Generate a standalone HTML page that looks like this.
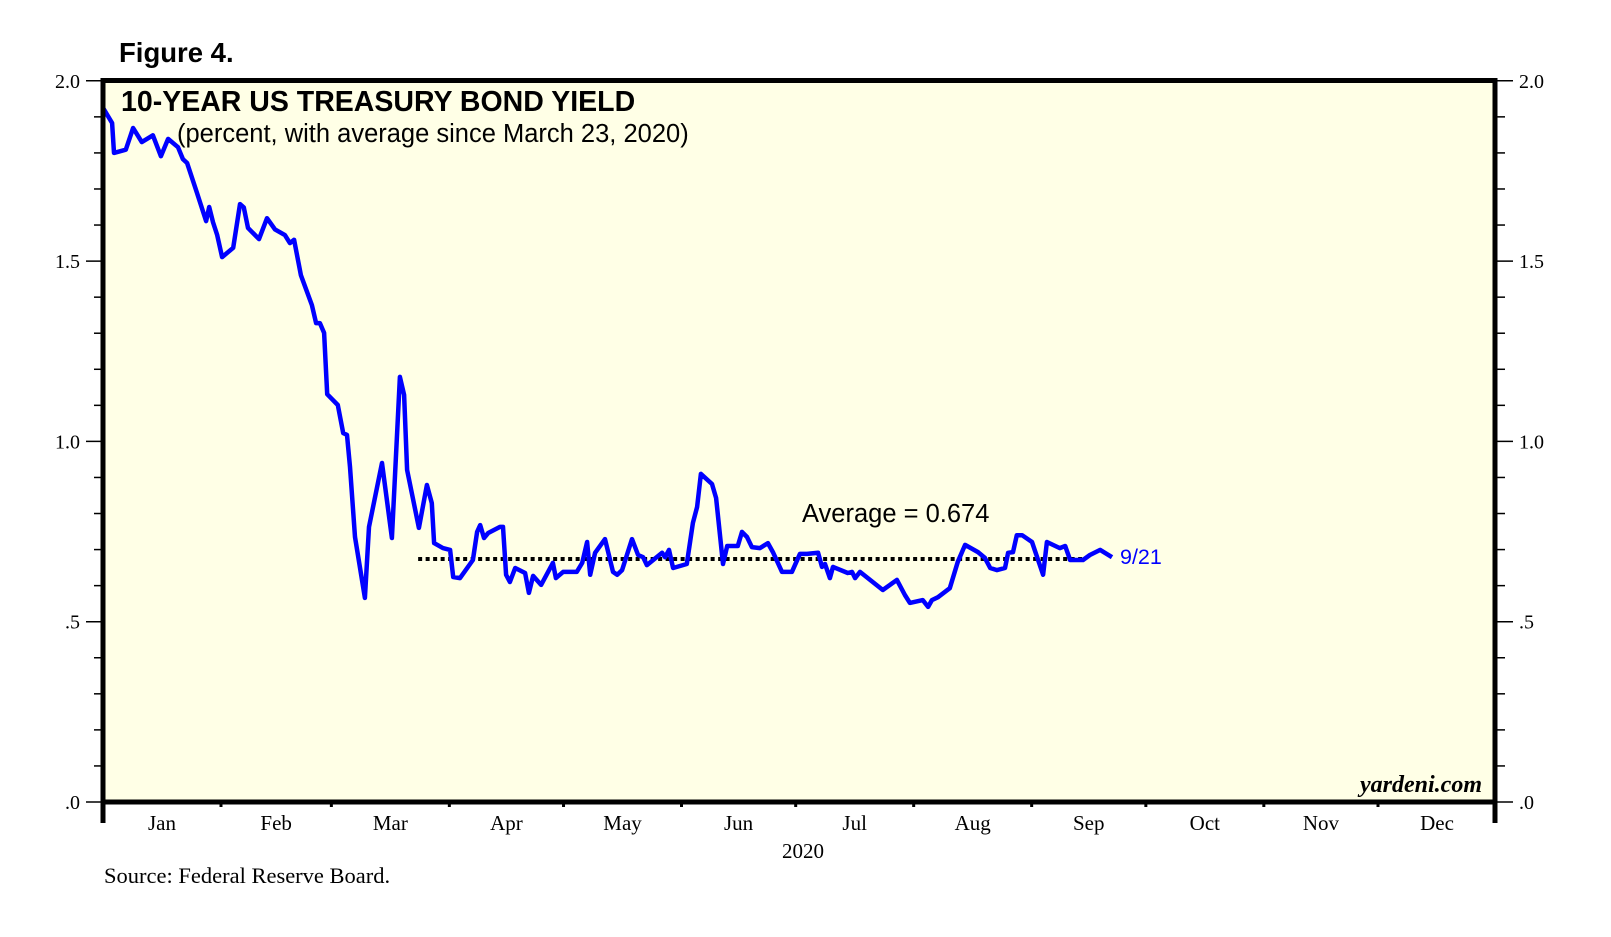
<!DOCTYPE html>
<html><head><meta charset="utf-8"><style>
body{margin:0;background:#fff;}
svg{display:block;}
.serif{font-family:"Liberation Serif",serif;}
.sans{font-family:"Liberation Sans",sans-serif;}
</style></head><body>
<svg id="chart" width="1611" height="937" xmlns="http://www.w3.org/2000/svg">
<rect x="0" y="0" width="1611" height="937" fill="#fff"/>
<rect x="103" y="80.5" width="1392" height="721.5" fill="#FFFFE6"/>
<g id="grid"></g>
<g id="series"></g>
<rect x="103" y="80.5" width="1392" height="721.5" fill="none" stroke="#000" stroke-width="5"/>
<line x1="103" y1="800" x2="103" y2="823" stroke="#000" stroke-width="5"/>
<line x1="1495" y1="800" x2="1495" y2="823" stroke="#000" stroke-width="5"/>
<text x="119" y="62" class="sans" font-size="27.5" font-weight="bold">Figure 4.</text>
<text x="121" y="111" class="sans" font-size="28.5" font-weight="bold">10-YEAR US TREASURY BOND YIELD</text>
<text x="177" y="142" class="sans" font-size="25.5">(percent, with average since March 23, 2020)</text>
<text x="802" y="522" class="sans" font-size="25.5">Average = 0.674</text>
<text x="1120" y="564" class="sans" font-size="21.5" fill="#0000FF">9/21</text>
<text x="1482" y="792" class="serif" font-size="24" font-style="italic" font-weight="bold" text-anchor="end">yardeni.com</text>
<text x="803" y="858" class="serif" font-size="21" text-anchor="middle">2020</text>
<text x="104" y="883" class="serif" font-size="22.5">Source: Federal Reserve Board.</text>
</svg>
<script>
const days = [0,2.4,2.9,6.0,7.9,10.2,13.1,15.2,17.1,19.7,21.0,22.1,24.7,27.1,27.9,28.9,30.0,31.3,34.2,36.0,37.0,38.1,41.0,43.1,45.2,47.8,49.1,50.2,52.0,54.9,56.0,57.0,58.1,58.9,61.7,63.1,64.1,64.9,66.2,68.8,69.9,73.3,75.9,78.0,79.1,79.9,83.0,85.1,86.4,87.0,89.3,91.2,92.0,93.8,97.2,98.3,99.1,100.1,101.2,104.3,105.1,105.9,106.9,108.3,110.9,111.9,113.0,115.1,118.2,119.0,120.9,124.5,125.9,127.2,128.0,129.3,131.9,134.0,135.1,136.4,139.0,140.6,141.9,142.9,146.9,147.7,148.7,149.8,153.4,155.0,156.1,157.1,160.0,161.1,162.9,164.0,166.8,167.9,169.2,170.5,172.6,174.7,176.0,178.4,181.0,183.1,185.0,187.9,188.9,189.7,191.0,191.8,195.7,196.8,197.6,198.9,204.9,208.6,210.7,212.0,215.4,216.8,217.8,219.4,222.5,224.6,226.5,229.9,231.7,233.1,234.9,237.0,237.8,239.1,240.1,241.5,244.1,247.0,248.0,251.4,252.8,254.1,257.5,259.3,262.0,265.1];
const yields = [1.925,1.883,1.800,1.809,1.869,1.830,1.849,1.791,1.839,1.816,1.783,1.772,1.689,1.611,1.650,1.608,1.572,1.511,1.537,1.658,1.649,1.592,1.561,1.619,1.588,1.572,1.550,1.559,1.461,1.378,1.328,1.328,1.301,1.131,1.101,1.023,1.018,0.929,0.735,0.566,0.763,0.940,0.732,1.179,1.129,0.921,0.760,0.879,0.829,0.718,0.704,0.699,0.624,0.621,0.671,0.749,0.768,0.732,0.746,0.763,0.763,0.630,0.610,0.649,0.635,0.580,0.627,0.602,0.663,0.621,0.638,0.638,0.663,0.721,0.630,0.691,0.729,0.638,0.630,0.643,0.729,0.685,0.679,0.657,0.691,0.679,0.699,0.649,0.660,0.774,0.818,0.910,0.882,0.843,0.660,0.710,0.710,0.749,0.735,0.707,0.704,0.718,0.693,0.638,0.638,0.688,0.688,0.691,0.652,0.660,0.621,0.652,0.635,0.638,0.621,0.638,0.588,0.616,0.574,0.552,0.560,0.541,0.560,0.568,0.593,0.666,0.713,0.693,0.677,0.649,0.643,0.649,0.691,0.693,0.740,0.740,0.721,0.630,0.721,0.704,0.710,0.671,0.671,0.685,0.699,0.679];
const averageValue = 0.674;
const averageStartDay = 82.8;
const averageEndDay = 258;
const yTicks = [0,0.5,1.0,1.5,2.0];
const yTickLabels = [".0",".5","1.0","1.5","2.0"];
const monthNames = ["Jan","Feb","Mar","Apr","May","Jun","Jul","Aug","Sep","Oct","Nov","Dec"];
const monthStarts = [0,31,60,91,121,152,182,213,244,274,305,335,366];

const NS = "http://www.w3.org/2000/svg";
const X0 = 103, PXD = 3.806, Y0 = 802, PXU = 360.6;
function xScale(d){ return X0 + d*PXD; }
function yScale(v){ return Y0 - v*PXU; }
function mk(tag, attrs, parent){ const e=document.createElementNS(NS,tag); for(const k in attrs) e.setAttribute(k,attrs[k]); parent.appendChild(e); return e; }
const grid = document.getElementById('grid');
const series = document.getElementById('series');

for(let i=0;i<=20;i++){
  const v=i/10, y=yScale(v), major=(i%5===0);
  const l=mk('line',{x1:major?86:94,x2:103,y1:y,y2:y,stroke:'#000','stroke-width':1.5},grid);
  
  
  const r=mk('line',{x1:1495,x2:major?1513:1505,y1:y,y2:y,stroke:'#000','stroke-width':1.5},grid);
  
  
}
yTicks.forEach((v,i)=>{
  const y=yScale(v)+7;
  const a=mk('text',{x:80,y:y,'text-anchor':'end','font-size':20,class:'serif'},grid);
  a.textContent=yTickLabels[i];
  
  
  const b=mk('text',{x:1519,y:y,'font-size':20,class:'serif'},grid);
  b.textContent=yTickLabels[i];
  
  
});
monthNames.forEach((m,i)=>{
  const xs=xScale(monthStarts[i]);
  if(i>0){
    const t=mk('line',{x1:xs,x2:xs,y1:800,y2:807,stroke:'#000','stroke-width':3},grid);
    
    
  }
  const xc=xScale((monthStarts[i]+monthStarts[i+1])/2);
  const tx=mk('text',{x:xc,y:830,'text-anchor':'middle','font-size':21,class:'serif'},grid);
  tx.textContent=m;
  
  
});
const avg=mk('line',{x1:xScale(averageStartDay),x2:xScale(averageEndDay),y1:yScale(averageValue),y2:yScale(averageValue),stroke:'#000','stroke-width':4,'stroke-dasharray':'4 3.5'},series);


const pts=days.map((d,i)=>xScale(d).toFixed(1)+','+yScale(yields[i]).toFixed(1)).join(' ');
const pl=mk('polyline',{points:pts,fill:'none',stroke:'#0000FF','stroke-width':4.5,'stroke-linejoin':'round'},series);


</script>
</body></html>
